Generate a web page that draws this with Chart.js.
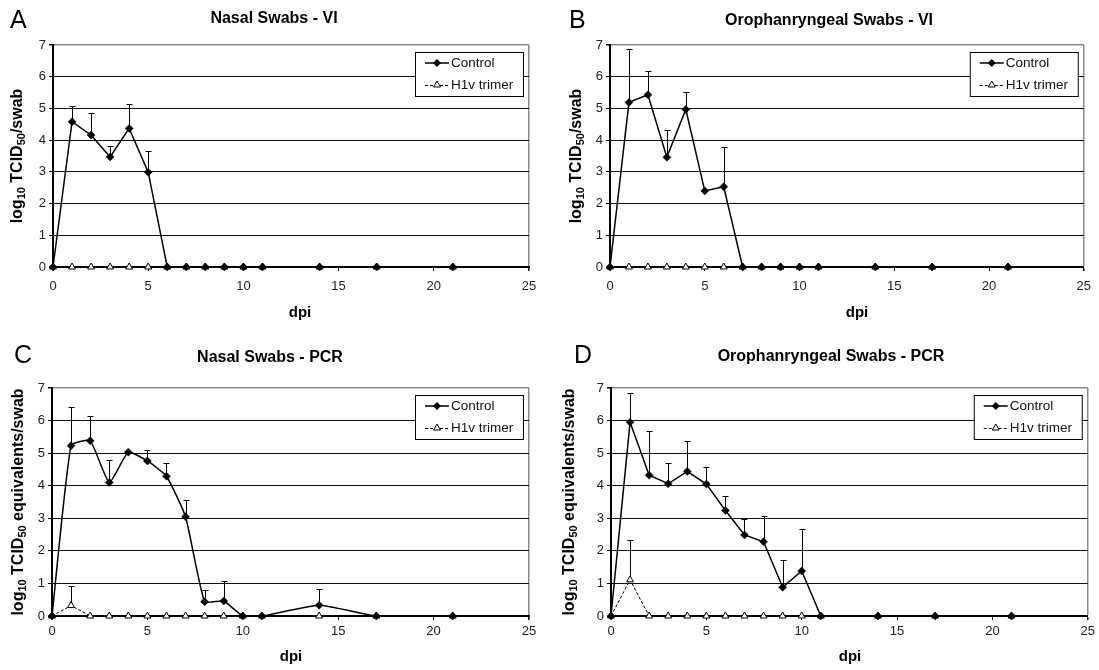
<!DOCTYPE html>
<html><head><meta charset="utf-8">
<script src="https://cdn.jsdelivr.net/npm/chart.js@4.4.1/dist/chart.umd.min.js"></script>
<style>
html,body{margin:0;padding:0;background:#fff;}
#wrap{position:relative;width:1099px;height:670px;overflow:hidden;background:#fff;}
.panel{position:absolute;}
canvas{display:block;}
</style></head><body>
<div id="wrap">
<div class="panel" style="left:0;top:0;width:550px;height:335px"><canvas id="cA" width="550" height="335"></canvas></div>
<div class="panel" style="left:550px;top:0;width:549px;height:335px"><canvas id="cB" width="549" height="335"></canvas></div>
<div class="panel" style="left:0;top:335px;width:550px;height:335px"><canvas id="cC" width="550" height="335"></canvas></div>
<div class="panel" style="left:550px;top:335px;width:549px;height:335px"><canvas id="cD" width="549" height="335"></canvas></div>
</div>
<script>
// ---------- DATA ----------
const dpi = [0,1,2,3,4,5,6,7,8,9,10,11,14,17,21];
const xTicks = [0,5,10,15,20,25];
const yTicks = [0,1,2,3,4,5,6,7];
const legendLabels = ['Control','H1v trimer'];
const letters = ['A','B','C','D'];
const titles = ['Nasal Swabs - VI','Orophanryngeal Swabs - VI','Nasal Swabs - PCR','Orophanryngeal Swabs - PCR'];
const xLabel = 'dpi';
const yLabelVI  = [['log',0],['10',1],[' TCID',0],['50',1],['/swab',0]];
const yLabelPCR = [['log',0],['10',1],[' TCID',0],['50',1],[' equivalents/swab',0]];

const controlA    = [0,4.58,4.16,3.47,4.37,2.99,0,0,0,0,0,0,0,0,0];
const controlErrA = [null,5.08,4.86,3.80,5.14,3.65,null,null,null,null,null,null,null,null,null];
const h1vA        = [0,0,0,0,0,0,0,0,0,0,0,0,0,0,0];
const h1vErrA     = [null,null,null,null,null,null,null,null,null,null,null,null,null,null,null];

const controlB    = [0,5.19,5.43,3.46,4.97,2.40,2.53,0,0,0,0,0,0,0,0];
const controlErrB = [null,6.87,6.19,4.31,5.52,null,3.79,null,null,null,null,null,null,null,null];
const h1vB        = [0,0,0,0,0,0,0,0,0,0,0,0,0,0,0];
const h1vErrB     = [null,null,null,null,null,null,null,null,null,null,null,null,null,null,null];

const controlC    = [0,5.23,5.38,4.10,5.03,4.76,4.29,3.05,0.44,0.46,0,0,0.33,0,0];
const controlErrC = [null,6.42,6.13,4.78,null,5.09,4.71,3.55,0.80,1.07,null,null,0.83,null,null];
const h1vC        = [0,0.32,0,0,0,0,0,0,0,0,0,0,0,0,0];
const h1vErrC     = [null,0.93,null,null,null,null,null,null,null,null,null,null,null,null,null];

const controlD    = [0,5.95,4.32,4.06,4.44,4.05,3.24,2.49,2.28,0.88,1.38,0,0,0,0];
const controlErrD = [null,6.84,5.68,4.69,5.38,4.57,3.68,2.99,3.06,1.73,2.66,null,null,null,null];
const h1vD        = [0,1.11,0,0,0,0,0,0,0,0,0,0,0,0,0];
const h1vErrD     = [null,2.34,null,null,null,null,null,null,null,null,null,null,null,null,null];

// ---------- LAYOUT ----------
const FONT = '"Liberation Sans", Arial, sans-serif';
Chart.defaults.font.family = FONT;
Chart.defaults.color = '#222';

const panels = [
  {id:'cA', w:550,h:335, left:53, right:529, top:45, bottom:267, letterX:10, titleX:274,titleY:19, yLabX:16, dpiX:300,dpiY:313, xTickPad:8, yl:yLabelVI,  c:controlA,ce:controlErrA,t:h1vA,te:h1vErrA, tension:0},
  {id:'cB', w:549,h:335, left:60, right:537, top:45, bottom:267, letterX:19, titleX:279,titleY:21, yLabX:25, dpiX:307,dpiY:313, xTickPad:8, yl:yLabelVI,  c:controlB,ce:controlErrB,t:h1vB,te:h1vErrB, tension:0},
  {id:'cC', w:550,h:335, left:52, right:529, top:53, bottom:281, letterX:14, titleX:270,titleY:23, yLabX:17, dpiX:291,dpiY:322, xTickPad:4, yl:yLabelPCR, c:controlC,ce:controlErrC,t:h1vC,te:h1vErrC, tension:0.15},
  {id:'cD', w:549,h:335, left:61, right:538, top:53, bottom:281, letterX:24, titleX:281,titleY:22, yLabX:18, dpiX:300,dpiY:322, xTickPad:4, yl:yLabelPCR, c:controlD,ce:controlErrD,t:h1vD,te:h1vErrD, tension:0}
];

function drawDiamond(ctx,x,y,r){ctx.beginPath();ctx.moveTo(x,y-r);ctx.lineTo(x+r,y);ctx.lineTo(x,y+r);ctx.lineTo(x-r,y);ctx.closePath();ctx.fillStyle='#000';ctx.fill();}
function drawTri(ctx,x,y,r){const h=r*0.866;ctx.beginPath();ctx.moveTo(x,y-r);ctx.lineTo(x+h,y+r/2);ctx.lineTo(x-h,y+r/2);ctx.closePath();ctx.fillStyle='#fff';ctx.fill();ctx.strokeStyle='#000';ctx.lineWidth=1;ctx.setLineDash([]);ctx.stroke();}

const errPlugin = {
  id:'errBars',
  beforeDatasetsDraw(chart){
    const ctx=chart.ctx, xs=chart.scales.x, ys=chart.scales.y;
    ctx.save(); ctx.strokeStyle='#000'; ctx.lineWidth=1; ctx.setLineDash([]);
    chart.data.datasets.forEach(ds=>{
      if(!ds.errTop) return;
      ds.data.forEach((p,i)=>{
        const t=ds.errTop[i]; if(t==null) return;
        const px=Math.round(xs.getPixelForValue(p.x))+0.5;
        const py=ys.getPixelForValue(p.y), pt=Math.round(ys.getPixelForValue(t))+0.5;
        ctx.beginPath(); ctx.moveTo(px,py); ctx.lineTo(px,pt);
        ctx.moveTo(px-3,pt); ctx.lineTo(px+3,pt); ctx.stroke();
      });
    });
    ctx.restore();
  }
};

const decoPlugin = {
  id:'deco',
  afterDraw(chart,args,o){
    const ctx=chart.ctx, ca=chart.chartArea;
    ctx.save();
    ctx.fillStyle='#000';
    ctx.font='25px '+FONT; ctx.textAlign='left'; ctx.textBaseline='alphabetic';
    ctx.fillText(o.letter,o.letterX,28);
    ctx.font='bold 16px '+FONT; ctx.textAlign='center'; ctx.textBaseline='middle';
    ctx.fillText(o.title,o.titleX,o.titleY);
    ctx.font='bold 15px '+FONT;
    ctx.fillText(o.xLabel,o.dpiX,o.dpiY);
    const mainF='bold 16px '+FONT, subF='bold 11px '+FONT;
    let total=0;
    o.yl.forEach(([s,sub])=>{ctx.font=sub?subF:mainF; total+=ctx.measureText(s).width;});
    ctx.translate(o.yLabX,(ca.top+ca.bottom)/2);
    ctx.rotate(-Math.PI/2);
    ctx.textAlign='left'; ctx.textBaseline='alphabetic';
    let x=-total/2;
    o.yl.forEach(([s,sub])=>{ctx.font=sub?subF:mainF; ctx.fillText(s,x,sub?9:5.5); x+=ctx.measureText(s).width;});
    ctx.restore();
    // legend box
    ctx.save();
    const bw=108,bh=44, bx=ca.right-6-bw, by=ca.top+7;
    ctx.fillStyle='#fff'; ctx.fillRect(bx,by,bw,bh);
    ctx.strokeStyle='#000'; ctx.lineWidth=1; ctx.strokeRect(bx+0.5,by+0.5,bw,bh);
    const r1=by+11, r2=by+33;
    ctx.lineWidth=1.5; ctx.beginPath(); ctx.moveTo(bx+10,r1); ctx.lineTo(bx+34,r1); ctx.stroke();
    drawDiamond(ctx,bx+22,r1,4);
    ctx.lineWidth=1; ctx.setLineDash([3,2]); ctx.beginPath(); ctx.moveTo(bx+10,r2+0.5); ctx.lineTo(bx+34,r2+0.5); ctx.stroke();
    ctx.setLineDash([]);
    drawTri(ctx,bx+22,r2,4);
    ctx.fillStyle='#111'; ctx.font='13.5px '+FONT; ctx.textAlign='left'; ctx.textBaseline='middle';
    ctx.fillText(o.labels[0],bx+36,r1);
    ctx.fillText(o.labels[1],bx+36,r2);
    ctx.restore();
  }
};

panels.forEach((P,k)=>{
  const ctrlPts = dpi.map((x,i)=>({x:x,y:P.c[i]}));
  const triPts  = dpi.map((x,i)=>({x:x,y:P.t[i]}));
  new Chart(document.getElementById(P.id),{
    type:'line',
    data:{datasets:[
      {label:legendLabels[0], data:ctrlPts, errTop:P.ce, borderColor:'#000', borderWidth:1.5,
       pointStyle:'rectRot', pointRadius:4, pointBackgroundColor:'#000', pointBorderColor:'#000', pointBorderWidth:0.5,
       tension:P.tension, clip:false, fill:false},
      {label:legendLabels[1], data:triPts, errTop:P.te, borderColor:'#000', borderWidth:1, borderDash:[3,2],
       pointStyle:'triangle', pointRadius:4, pointBackgroundColor:'#fff', pointBorderColor:'#000', pointBorderWidth:1,
       tension:0, clip:false, fill:false}
    ]},
    options:{
      responsive:false, animation:false, events:[],
      layout:{padding:{left:0,top:P.top,right:P.w-P.right,bottom:0}},
      plugins:{legend:{display:false}, tooltip:{enabled:false}, title:{display:false},
        deco:{letter:letters[k], title:titles[k], xLabel:xLabel, labels:legendLabels, yl:P.yl,
              letterX:P.letterX, titleX:P.titleX, titleY:P.titleY, yLabX:P.yLabX, dpiX:P.dpiX, dpiY:P.dpiY}},
      scales:{
        x:{type:'linear', min:0, max:25, offset:false,
           afterBuildTicks:s=>{s.ticks=xTicks.map(v=>({value:v}));},
           afterFit:s=>{s.height=P.h-P.bottom;},
           ticks:{font:{size:13}, color:'#222', padding:P.xTickPad, maxRotation:0},
           grid:{drawOnChartArea:true, tickLength:4, tickColor:'#000',
                 color:c=>(c.tick && c.tick.value===25)?'#8a8a8a':'rgba(0,0,0,0)',
                 lineWidth:c=>(c.tick && c.tick.value===25)?1.5:1},
           border:{display:true,color:'#000',width:2}},
        y:{type:'linear', min:0, max:7,
           afterBuildTicks:s=>{s.ticks=yTicks.map(v=>({value:v}));},
           afterFit:s=>{s.width=P.left;},
           ticks:{font:{size:13}, color:'#222', padding:3},
           grid:{tickLength:4, tickColor:'#000',
                 color:c=>(c.tick && c.tick.value===7)?'#8a8a8a':'#111',
                 lineWidth:c=>(c.tick && c.tick.value===7)?1.5:1},
           border:{display:true,color:'#000',width:2}}
      }
    },
    plugins:[errPlugin,decoPlugin]
  });
});
</script>
</body></html>
